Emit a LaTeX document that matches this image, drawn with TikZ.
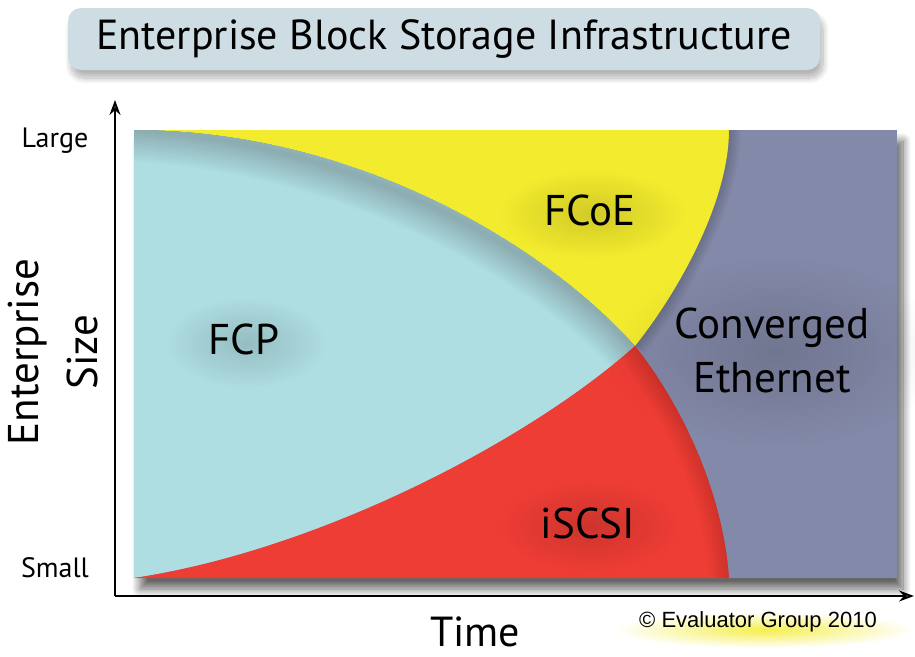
\documentclass[tikz,border=0pt]{standalone}
\usepackage{fontspec}
\setmainfont{PT Sans}
\newfontfamily\arialfont{Liberation Sans}
\usetikzlibrary{shadows.blur,arrows.meta,fadings}
\definecolor{fcp}{RGB}{174,221,226}
\definecolor{fcoe}{RGB}{243,236,46}
\definecolor{iscsi}{RGB}{238,61,53}
\definecolor{conv}{RGB}{131,137,168}
\definecolor{titlebg}{RGB}{205,221,227}
\tikzfading[name=glowfade, inner color=transparent!0, outer color=transparent!100]
\begin{document}
\begin{tikzpicture}[x=1pt,y=-1pt,
  lbl/.style={font=\fontsize{43}{54}\selectfont, text=black, align=center, inner sep=0pt},
  axlbl/.style={font=\fontsize{28}{30}\selectfont, inner sep=0pt},
  bigax/.style={font=\fontsize{43}{45}\selectfont, inner sep=0pt},
  axis/.style={line width=1.8pt, -{Stealth[length=15pt,width=11pt]}},
  innershadow/.style={black, opacity=0.011},
  halo/.style={black, opacity=0.14, path fading=glowfade}]
\useasboundingbox (0,0) rectangle (915,656);
% title
\node[fill=titlebg, rounded corners=13pt, minimum width=752pt, minimum height=62pt,
  blur shadow={shadow xshift=3pt, shadow yshift=-8pt, shadow blur steps=14, shadow blur radius=6pt, shadow opacity=30},
  font=\fontsize{42}{44}\selectfont] (title) at (444,39) {Enterprise Block Storage Infrastructure};
% key points
\coordinate (tl) at (134,130);
\coordinate (tr) at (897,130);
\coordinate (bl) at (134,578);
\coordinate (br) at (897,578);
\coordinate (c) at (635,346);
\coordinate (ft) at (729,130);
\coordinate (ib) at (729,578);
% chart background
\path[fill=conv, blur shadow={shadow xshift=6pt, shadow yshift=-11pt, shadow blur steps=14, shadow blur radius=8pt, shadow opacity=60}] (tl) rectangle (br);
% FCoE
\fill[fcoe] (tl) -- (ft) .. controls (729,200) and (680,290) .. (c) .. controls (540,240) and (350,130) .. (tl) -- cycle;
% FCP
\fill[fcp] (tl) .. controls (350,130) and (540,240) .. (c) .. controls (530,440) and (320,550) .. (bl) -- cycle;
\begin{scope}
  \clip (tl) .. controls (350,130) and (540,240) .. (c) .. controls (530,440) and (320,550) .. (bl) -- cycle;
  \foreach \w in {4,8,...,64}
    \draw[innershadow, line width=\w pt, shift={(6,12)}] (tl) .. controls (350,130) and (540,240) .. (c);
\end{scope}
% iSCSI
\fill[iscsi] (bl) .. controls (320,550) and (530,440) .. (c) .. controls (672,392) and (722,480) .. (ib) -- cycle;
\begin{scope}
  \clip (bl) .. controls (320,550) and (530,440) .. (c) .. controls (672,392) and (722,480) .. (ib) -- cycle;
  \foreach \w in {4,8,...,40}
    \draw[innershadow, line width=\w pt] (c) .. controls (672,392) and (722,480) .. (ib);
\end{scope}
% shadow in converged region along FCoE edge
\begin{scope}
  \clip (ft) .. controls (729,200) and (680,290) .. (c) .. controls (672,392) and (722,480) .. (ib) -- (br) -- (tr) -- cycle;
  \foreach \w in {3,6,...,24}
    \draw[black, opacity=0.02, line width=\w pt] (ft) .. controls (729,200) and (680,290) .. (c);
\end{scope}
% label halos
\fill[halo] (246,343) ellipse [x radius=80, y radius=45];
\fill[halo] (592,214) ellipse [x radius=95, y radius=45];
\fill[halo] (775,352) ellipse [x radius=170, y radius=95];
\fill[halo] (590,526) ellipse [x radius=90, y radius=45];
\fill[fcoe, opacity=0.85, path fading=glowfade] (764,630) ellipse [x radius=150, y radius=18];
% axes
\coordinate (o) at (115,596);
\coordinate (ytip) at (115,100);
\coordinate (xtip) at (914,596);
\draw[axis] (o) -- (ytip);
\draw[axis] (o) -- (xtip);
% axis labels
\node[axlbl] (large) at (55,141) {Large};
\node[axlbl] (small) at (55,568) {Small};
\node[bigax, rotate=90] (ent) at (28,352) {Enterprise};
\node[bigax, rotate=90] (size) at (82,352) {Size};
\node[font=\fontsize{42}{44}\selectfont, inner sep=0pt, anchor=base] (time) at (475,646) {Time};
% region labels
\node[lbl] (lfcp) at (244,339) {FCP};
\node[lbl] (lfcoe) at (590,210) {FCoE};
\node[lbl] (lconv) at (772,350) {Converged\\Ethernet};
\node[lbl] (liscsi) at (588,523) {iSCSI};
% copyright
\node[font=\arialfont\fontsize{22}{24}\selectfont, inner sep=0pt] (cpy) at (758,622) {© Evaluator Group 2010};
\end{tikzpicture}
\end{document}
